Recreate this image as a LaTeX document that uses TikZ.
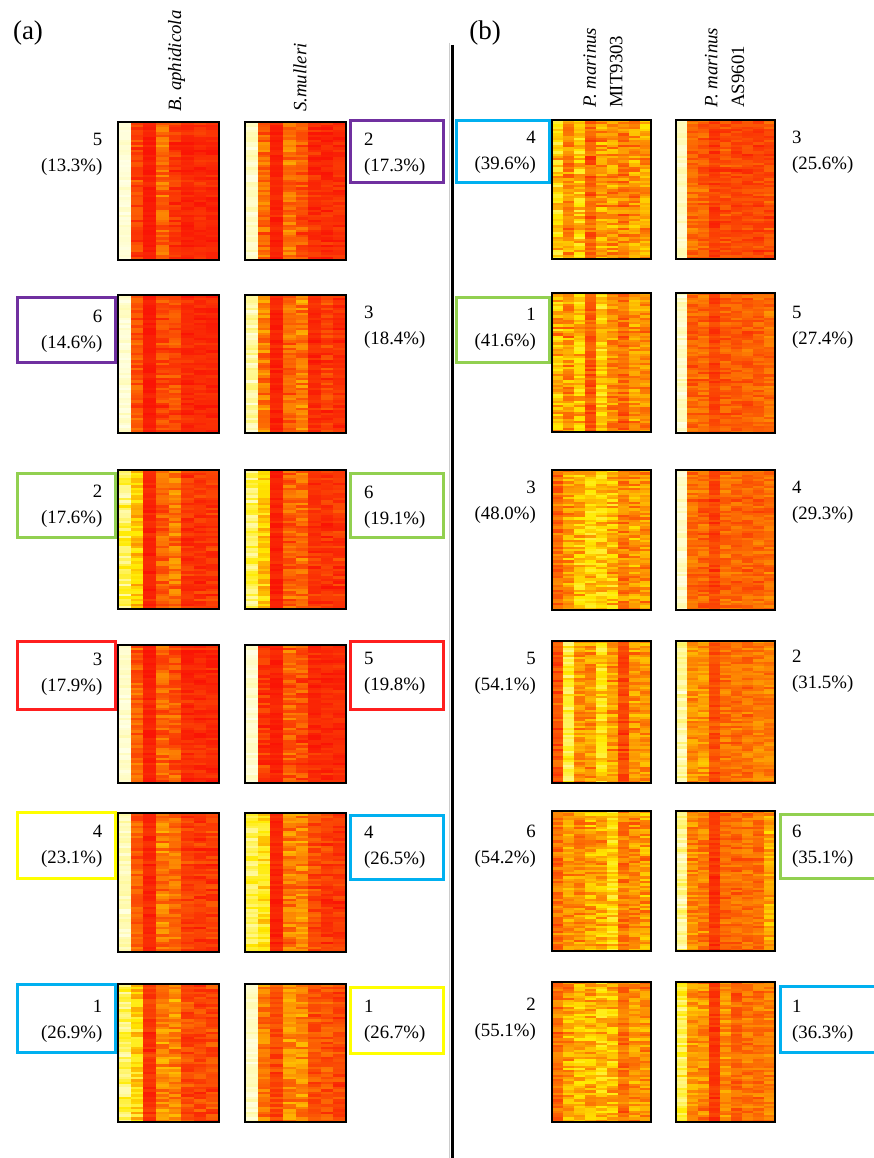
\documentclass[tikz,border=0pt]{standalone}
\usepackage{fontspec}
\setmainfont{Liberation Serif}
\definecolor{cpur}{HTML}{7030A0}
\definecolor{cgrn}{HTML}{92D050}
\definecolor{cred}{HTML}{FF1F1F}
\definecolor{cyel}{HTML}{FFFF00}
\definecolor{cblu}{HTML}{00B0F0}
% #1 x, #2 y, #3 w, #4 h, #5 ncols, #6 nrows, #7 row noise, #8 list mean/noise
\newcommand\hmap[8]{%
  \pgfmathsetmacro\hmcw{#3/#5}%
  \pgfmathsetmacro\hmrh{#4/#6}%
  \pgfmathsetmacro\hmcwx{\hmcw+0.3}%
  \pgfmathsetmacro\hmrhx{-(\hmrh+0.3)}%
  \pgfmathtruncatemacro\hmlast{#6-1}%
  \foreach \r in {0,...,\hmlast}{%
    \pgfmathsetmacro\hmre{#7*(2*rnd-1)}%
    \pgfmathsetmacro\hy{-(#2+\r*\hmrh)}%
    \foreach \m/\n [count=\c from 0] in {#8}{%
      \pgfmathsetmacro\hv{max(0,min(1,\m+\hmre+\n*(2*rnd-1)))}%
      \pgfmathsetmacro\ha{min(1,2*\hv)}%
      \pgfmathsetmacro\hb{max(0,2*\hv-1)}%
      \pgfmathsetmacro\hR{0.98+0.02*\ha}%
      \pgfmathsetmacro\hG{0.08+0.84*\ha+0.08*\hb}%
      \pgfmathsetmacro\hB{0.02*(1-\ha)+0.9*\hb}%
      \pgfmathsetmacro\hx{#1+\c*\hmcw}%
      \definecolor{hc}{rgb}{\hR,\hG,\hB}%
      \pgfsetfillcolor{hc}%
      \pgfpathrectangle{\pgfpoint{\hx pt}{\hy pt}}{\pgfpoint{\hmcwx pt}{\hmrhx pt}}%
      \pgfusepath{fill}%
    }%
  }%
  \draw[hmborder] (#1,#2) rectangle ++(#3,#4);
}
\begin{document}
\begin{tikzpicture}[x=1pt,y=-1pt,
  hmborder/.style={line width=2.6pt, draw=black},
  bx/.style={line width=3pt},
  lbl/.style={font=\fontsize{18.8}{25.5}\selectfont, inner sep=0pt, text=black},
  lft/.style={lbl, align=right, anchor=east},
  rgt/.style={lbl, align=left, anchor=west},
  hdr/.style={font=\fontsize{18.8}{26.6}\selectfont, inner sep=0pt, rotate=90, anchor=west, align=left, text=black},
  panel/.style={font=\fontsize{27}{30}\selectfont, inner sep=0pt, text=black}]
\useasboundingbox (0,0) rectangle (873,1158);
\fill[white] (0,0) rectangle (873,1158);
\pgfmathsetseed{7}

% separator lines
\coordinate (gtop) at (449,43);
\coordinate (gbot) at (449,1158);
\coordinate (btop) at (452,45);
\coordinate (bbot) at (452,1158);
\draw[line width=1pt, black!20] (gtop) -- (gbot);
\draw[line width=3pt, black] (btop) -- (bbot);

% panel letters
\node[panel] (pa) at (28,33) {(a)};
\node[panel] (pb) at (485,33) {(b)};

% headers
\node[hdr] (hba) at (176.5,112) {\textit{B. aphidicola}};
\node[hdr] (hsm) at (300,112) {\textit{S.mulleri}};
\node[hdr] (hmit) at (603,108) {\textit{P. marinus}\\MIT9303};
\node[hdr] (has) at (724.6,108) {\textit{P. marinus}\\AS9601};

% ===== panel (a) heatmaps =====
\begin{scope}
\hmap{118}{122}{101}{138}{8}{55}{0.03}{0.97/0.03, 0.12/0.08, 0.02/0.02, 0.2/0.1, 0.08/0.06, 0.04/0.03, 0.05/0.04, 0.04/0.03}
\hmap{245}{122}{101}{138}{8}{55}{0.03}{0.93/0.06, 0.2/0.1, 0.03/0.03, 0.22/0.1, 0.16/0.1, 0.06/0.05, 0.05/0.05, 0.06/0.05}
\hmap{118}{295}{101}{138}{8}{55}{0.03}{0.95/0.05, 0.16/0.08, 0.02/0.02, 0.12/0.08, 0.14/0.08, 0.05/0.04, 0.05/0.04, 0.04/0.03}
\hmap{245}{295}{101}{138}{8}{55}{0.03}{0.85/0.12, 0.24/0.12, 0.03/0.03, 0.18/0.1, 0.24/0.12, 0.05/0.04, 0.1/0.07, 0.06/0.05}
\hmap{118}{470}{101}{139}{8}{55}{0.03}{0.7/0.2, 0.42/0.12, 0.04/0.03, 0.18/0.1, 0.24/0.12, 0.08/0.06, 0.08/0.06, 0.08/0.06}
\hmap{245}{470}{101}{139}{8}{55}{0.03}{0.7/0.2, 0.45/0.12, 0.03/0.03, 0.18/0.1, 0.2/0.1, 0.08/0.06, 0.08/0.06, 0.08/0.06}
\hmap{118}{645}{101}{138}{8}{55}{0.03}{0.95/0.04, 0.18/0.08, 0.03/0.02, 0.2/0.1, 0.16/0.1, 0.05/0.04, 0.05/0.04, 0.05/0.04}
\hmap{245}{645}{101}{138}{8}{55}{0.03}{0.95/0.04, 0.1/0.08, 0.03/0.02, 0.18/0.1, 0.14/0.1, 0.05/0.04, 0.05/0.04, 0.05/0.04}
\hmap{118}{813}{101}{139}{8}{55}{0.03}{0.9/0.08, 0.18/0.08, 0.04/0.03, 0.24/0.12, 0.2/0.1, 0.1/0.07, 0.08/0.06, 0.1/0.07}
\hmap{245}{813}{101}{139}{8}{55}{0.03}{0.65/0.2, 0.52/0.15, 0.04/0.03, 0.24/0.12, 0.26/0.12, 0.13/0.08, 0.1/0.07, 0.08/0.06}
\hmap{118}{984}{101}{138}{8}{55}{0.03}{0.7/0.2, 0.48/0.15, 0.08/0.05, 0.28/0.12, 0.28/0.12, 0.13/0.08, 0.13/0.08, 0.13/0.08}
\hmap{245}{984}{101}{138}{8}{55}{0.03}{0.92/0.06, 0.24/0.1, 0.12/0.06, 0.28/0.12, 0.28/0.12, 0.14/0.08, 0.14/0.08, 0.12/0.07}

% ===== panel (b) heatmaps =====
\hmap{552}{120}{99}{139}{9}{62}{0.04}{0.45/0.2, 0.28/0.15, 0.42/0.18, 0.18/0.1, 0.3/0.15, 0.3/0.15, 0.25/0.12, 0.3/0.15, 0.33/0.15}
\hmap{676}{120}{99}{139}{9}{62}{0.03}{0.93/0.06, 0.2/0.08, 0.18/0.08, 0.09/0.05, 0.14/0.07, 0.11/0.06, 0.11/0.06, 0.11/0.06, 0.14/0.07}
\hmap{552}{293}{99}{139}{9}{62}{0.04}{0.36/0.18, 0.3/0.15, 0.4/0.15, 0.15/0.08, 0.45/0.15, 0.28/0.12, 0.2/0.1, 0.3/0.12, 0.28/0.12}
\hmap{676}{293}{99}{140}{9}{62}{0.03}{0.93/0.06, 0.19/0.08, 0.19/0.08, 0.11/0.05, 0.17/0.07, 0.17/0.07, 0.17/0.07, 0.19/0.07, 0.21/0.08}
\hmap{552}{470}{99}{140}{9}{62}{0.04}{0.2/0.1, 0.32/0.15, 0.4/0.17, 0.42/0.17, 0.45/0.17, 0.4/0.17, 0.25/0.12, 0.32/0.15, 0.3/0.12}
\hmap{676}{470}{99}{140}{9}{62}{0.03}{0.93/0.06, 0.21/0.08, 0.19/0.08, 0.11/0.05, 0.21/0.08, 0.19/0.07, 0.19/0.07, 0.19/0.07, 0.21/0.08}
\hmap{552}{641}{99}{142}{9}{62}{0.04}{0.15/0.08, 0.6/0.18, 0.3/0.12, 0.3/0.12, 0.5/0.18, 0.3/0.12, 0.12/0.06, 0.3/0.12, 0.3/0.12}
\hmap{676}{641}{99}{142}{9}{62}{0.03}{0.85/0.12, 0.3/0.1, 0.3/0.1, 0.13/0.05, 0.22/0.08, 0.22/0.08, 0.22/0.08, 0.25/0.08, 0.25/0.08}
\hmap{552}{811}{99}{140}{9}{62}{0.04}{0.22/0.1, 0.3/0.12, 0.3/0.12, 0.35/0.15, 0.35/0.15, 0.5/0.18, 0.25/0.12, 0.28/0.12, 0.32/0.15}
\hmap{676}{811}{99}{140}{9}{62}{0.03}{0.82/0.15, 0.28/0.1, 0.25/0.1, 0.08/0.04, 0.2/0.08, 0.2/0.08, 0.22/0.08, 0.22/0.08, 0.35/0.12}
\hmap{552}{982}{99}{140}{9}{62}{0.04}{0.22/0.1, 0.32/0.15, 0.38/0.15, 0.35/0.15, 0.42/0.17, 0.4/0.17, 0.22/0.1, 0.3/0.12, 0.28/0.12}
\hmap{676}{982}{99}{140}{9}{62}{0.03}{0.65/0.18, 0.32/0.12, 0.28/0.12, 0.08/0.04, 0.28/0.1, 0.18/0.08, 0.22/0.08, 0.22/0.08, 0.25/0.08}
\end{scope}

% ===== coloured frames =====
\draw[bx, cpur] (350,121) rectangle (443,183);
\draw[bx, cpur] (17,297) rectangle (115,362);
\draw[bx, cgrn] (17,473) rectangle (115,537);
\draw[bx, cgrn] (350,473) rectangle (443,537);
\draw[bx, cred] (17,641) rectangle (115,709);
\draw[bx, cred] (350,641) rectangle (443,709);
\draw[bx, cyel] (17,812) rectangle (115,878);
\draw[bx, cblu] (350,815) rectangle (443,879);
\draw[bx, cblu] (17,984) rectangle (115,1052);
\draw[bx, cyel] (350,987) rectangle (443,1053);
\draw[bx, cblu] (456,121) rectangle (549,183);
\draw[bx, cgrn] (456,297) rectangle (549,362);
\draw[bx, cgrn] (780,814) rectangle (885,878);
\draw[bx, cblu] (780,986) rectangle (885,1052);

% ===== labels panel (a) =====
\node[lft] (al1) at (102.5,154.4) {5\\(13.3\%)};
\node[lft] (al2) at (102.5,331.4) {6\\(14.6\%)};
\node[lft] (al3) at (102.5,506.4) {2\\(17.6\%)};
\node[lft] (al4) at (102.5,674.4) {3\\(17.9\%)};
\node[lft] (al5) at (102.5,846.4) {4\\(23.1\%)};
\node[lft] (al6) at (102.5,1021.4) {1\\(26.9\%)};
\node[rgt] (ar1) at (364,154.4) {2\\(17.3\%)};
\node[rgt] (ar2) at (364,327.4) {3\\(18.4\%)};
\node[rgt] (ar3) at (364,507.4) {6\\(19.1\%)};
\node[rgt] (ar4) at (364,673.4) {5\\(19.8\%)};
\node[rgt] (ar5) at (364,847.4) {4\\(26.5\%)};
\node[rgt] (ar6) at (364,1021.4) {1\\(26.7\%)};

% ===== labels panel (b) =====
\node[lft] (bl1) at (536,152.4) {4\\(39.6\%)};
\node[lft] (bl2) at (536,329.4) {1\\(41.6\%)};
\node[lft] (bl3) at (536,502.4) {3\\(48.0\%)};
\node[lft] (bl4) at (536,673.4) {5\\(54.1\%)};
\node[lft] (bl5) at (536,846.4) {6\\(54.2\%)};
\node[lft] (bl6) at (536,1019.4) {2\\(55.1\%)};
\node[rgt] (br1) at (792,152.4) {3\\(25.6\%)};
\node[rgt] (br2) at (792,327.4) {5\\(27.4\%)};
\node[rgt] (br3) at (792,502.4) {4\\(29.3\%)};
\node[rgt] (br4) at (792,671.4) {2\\(31.5\%)};
\node[rgt] (br5) at (792,846.4) {6\\(35.1\%)};
\node[rgt] (br6) at (792,1021.4) {1\\(36.3\%)};
\end{tikzpicture}
\end{document}
